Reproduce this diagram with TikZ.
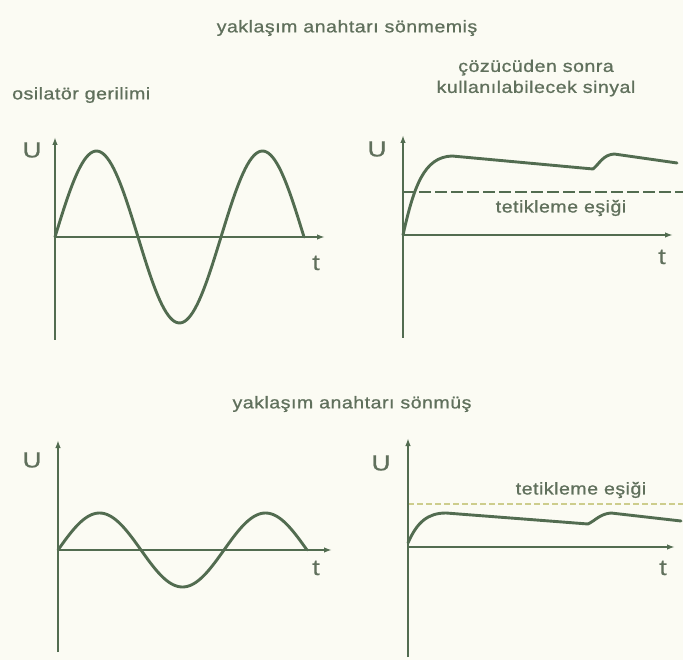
\documentclass[tikz,border=0pt]{standalone}
\usepackage{fontspec}
\setmainfont{Liberation Sans}
\newfontfamily\labfont[FakeStretch=1.15,LetterSpace=3,FakeBold=0.9]{Liberation Sans}
\newfontfamily\axfont[FakeStretch=1.2,FakeBold=0.6]{Liberation Sans}
\usetikzlibrary{arrows.meta}
\definecolor{bgc}{RGB}{251,251,243}
\definecolor{linec}{RGB}{82,108,80}
\definecolor{textc}{RGB}{96,112,92}
\definecolor{thrc}{RGB}{205,205,140}
\tikzset{
  axisline/.style={draw=linec, line width=2.6pt, -{Latex[length=8pt,width=5.5pt]}},
  curve/.style={draw=linec, line width=2.9pt, line join=round, line cap=round},
  dashline/.style={draw=linec, line width=2pt, dash pattern=on 12pt off 4pt},
  thinline/.style={draw=thrc, line width=1.2pt, dash pattern=on 6pt off 3pt},
  lab/.style={text=textc, font=\labfont\fontsize{17}{20}\selectfont, inner sep=0pt, align=center},
  axlab/.style={text=textc, font=\axfont\fontsize{22}{24}\selectfont, inner sep=0pt}
}
\begin{document}
\begin{tikzpicture}[x=1pt,y=-1pt]
\fill[bgc] (0,0) rectangle (683,660);
\useasboundingbox (0,0) rectangle (683,660);

% titles
\node[lab] (t1) at (347,28) {yaklaşım anahtarı sönmemiş};
\node[lab, anchor=west] (osc) at (12,95) {osilatör gerilimi};
\node[lab] (coz) at (536,78) {çözücüden sonra\\[1pt]kullanılabilecek sinyal};
\node[lab] (t2) at (352,404) {yaklaşım anahtarı sönmüş};

% ---- panel 1
\coordinate (b1) at (55,340);
\coordinate (y1) at (55,137);
\coordinate (o1) at (55,237);
\coordinate (x1) at (325,237);
\draw[axisline] (b1) -- (y1);
\draw[axisline] (o1) -- (x1);
\node[axlab] (u1) at (32,150) {U};
\node[axlab] (tt1) at (316,263) {t};
\draw[curve] plot[domain=0:249, samples=120] ({55+\x},{237-86*sin(\x/166*360)});

% ---- panel 2
\coordinate (b2) at (403,338);
\coordinate (y2) at (403,135);
\coordinate (o2) at (403,235);
\coordinate (x2) at (673,235);
\coordinate (d2a) at (403,192);
\coordinate (d2b) at (683,192);
\draw[dashline] (d2a) -- (d2b);
\draw[axisline] (b2) -- (y2);
\draw[axisline] (o2) -- (x2);
\node[axlab] (u2) at (377,149) {U};
\node[axlab] (tt2) at (662,257) {t};
\node[lab] (th1) at (561,208) {tetikleme eşiği};
\draw[curve] (o2) .. controls (414,186) and (424,157) .. (452,156)
  -- (593,169) .. controls (600,163) and (603,155) .. (614,154) -- (677,163);

% ---- panel 3
\coordinate (b3) at (58,652);
\coordinate (y3) at (58,440);
\coordinate (o3) at (58,550);
\coordinate (x3) at (332,550);
\draw[axisline] (b3) -- (y3);
\draw[axisline] (o3) -- (x3);
\node[axlab] (u3) at (32,460) {U};
\node[axlab] (tt3) at (316,568) {t};
\draw[curve] plot[domain=0:249, samples=120] ({58+\x},{550-37*sin(\x/166*360)});

% ---- panel 4
\coordinate (b4) at (408,657);
\coordinate (y4) at (408,438);
\coordinate (o4) at (408,547);
\coordinate (x4) at (675,547);
\coordinate (d4a) at (408,504);
\coordinate (d4b) at (683,504);
\draw[thinline] (d4a) -- (d4b);
\draw[axisline] (b4) -- (y4);
\draw[axisline] (o4) -- (x4);
\node[axlab] (u4) at (381,463) {U};
\node[axlab] (tt4) at (663,568) {t};
\node[lab] (th2) at (581,490) {tetikleme eşiği};
\coordinate (c4) at (408,543);
\draw[curve] (c4) .. controls (417,522) and (428,513) .. (446,513)
  -- (588,524) .. controls (596,520) and (600,514) .. (611,513) -- (681,521);
\end{tikzpicture}
\end{document}
